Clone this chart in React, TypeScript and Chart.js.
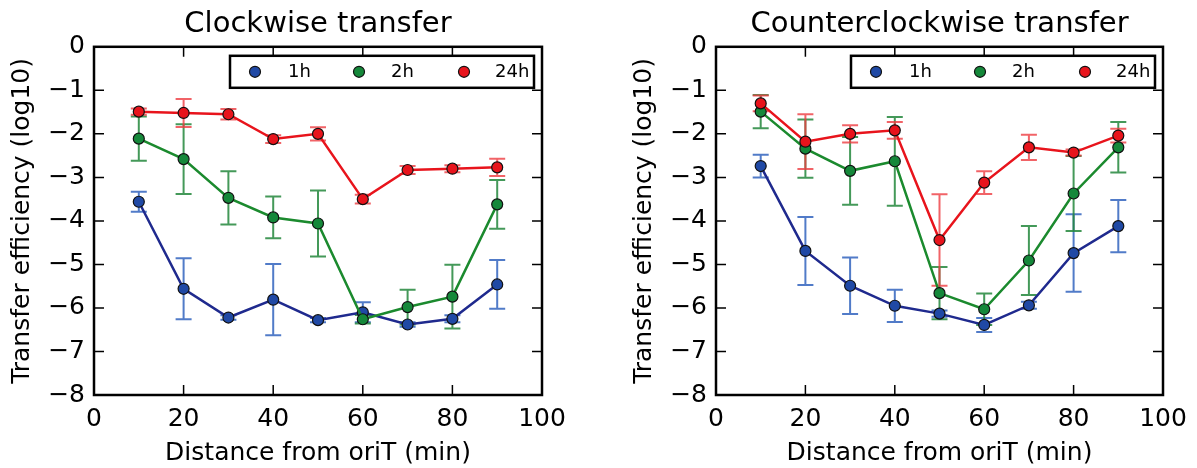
import React, { useEffect, useRef } from 'react';
import { Chart, registerables } from 'chart.js';

Chart.register(...registerables);

// Sampling positions along the chromosome (minutes from oriT)
const distances = [10, 20, 30, 40, 50, 60, 70, 80, 90];
const xTickValues = [0, 20, 40, 60, 80, 100];
const yTickValues = [0, -1, -2, -3, -4, -5, -6, -7, -8];
const seriesLabels = ['1h', '2h', '24h'];

// Clockwise transfer, log10 efficiency and error
const cw1h = [-3.56, -5.56, -6.22, -5.81, -6.28, -6.1, -6.38, -6.25, -5.46];
const cw1hErr = [0.23, 0.7, 0.05, 0.82, 0.05, 0.23, 0.05, 0.08, 0.56];
const cw2h = [-2.11, -2.58, -3.47, -3.92, -4.06, -6.26, -5.98, -5.74, -3.62];
const cw2hErr = [0.51, 0.8, 0.61, 0.48, 0.76, 0.1, 0.4, 0.73, 0.56];
const cw24h = [-1.49, -1.52, -1.55, -2.12, -2.0, -3.5, -2.83, -2.8, -2.77];
const cw24hErr = [0.07, 0.32, 0.12, 0.09, 0.15, 0.1, 0.09, 0.08, 0.2];

// Counterclockwise transfer, log10 efficiency and error
const ccw1h = [-2.74, -4.69, -5.49, -5.95, -6.13, -6.39, -5.94, -4.74, -4.12];
const ccw1hErr = [0.26, 0.78, 0.65, 0.37, 0.07, 0.16, 0.08, 0.89, 0.6];
const ccw2h = [-1.49, -2.34, -2.85, -2.63, -5.66, -6.03, -4.91, -3.37, -2.31];
const ccw2hErr = [0.38, 0.67, 0.78, 1.02, 0.6, 0.36, 0.79, 0.86, 0.58];
const ccw24h = [-1.3, -2.18, -2.0, -1.92, -4.44, -3.12, -2.31, -2.43, -2.04];
const ccw24hErr = [0.18, 0.63, 0.2, 0.19, 1.05, 0.26, 0.29, 0.07, 0.16];

const lineColors = ['#1f2a8e', '#1b8a2e', '#e8141c'];
const markerColors = ['#2049a5', '#15883a', '#e8141c'];
const errorColors = ['rgba(50,100,190,0.85)', 'rgba(35,135,60,0.85)', 'rgba(238,60,65,0.8)'];

const FONT = 'DejaVu Sans';
const H = 468;

const minus = (v: number) => (v < 0 ? '\u2212' + Math.abs(v) : String(v));

// Vertical error bars with caps, drawn underneath the lines
const errorBarPlugin = {
  id: 'errorBars',
  beforeDatasetsDraw(chart: any) {
    const { ctx, scales } = chart;
    const xs = scales.x;
    const ys = scales.y;
    ctx.save();
    ctx.lineWidth = 2;
    chart.data.datasets.forEach((ds: any) => {
      ctx.strokeStyle = ds.errorColor;
      ds.data.forEach((p: any, j: number) => {
        const e = ds.errors[j];
        const px = xs.getPixelForValue(p.x);
        const top = ys.getPixelForValue(p.y + e);
        const bot = ys.getPixelForValue(p.y - e);
        ctx.beginPath();
        ctx.moveTo(px, top);
        ctx.lineTo(px, bot);
        ctx.moveTo(px - 8, top);
        ctx.lineTo(px + 8, top);
        ctx.moveTo(px - 8, bot);
        ctx.lineTo(px + 8, bot);
        ctx.stroke();
      });
    });
    ctx.restore();
  },
};

// Axes frame with inward tick marks on all four sides
const framePlugin = {
  id: 'frame',
  afterDatasetsDraw(chart: any) {
    const { ctx, chartArea: a, scales } = chart;
    const len = 10;
    ctx.save();
    ctx.strokeStyle = '#000';
    ctx.lineWidth = 1.5;
    ctx.beginPath();
    scales.x.ticks.forEach((t: any) => {
      const px = scales.x.getPixelForValue(t.value);
      ctx.moveTo(px, a.bottom);
      ctx.lineTo(px, a.bottom - len);
      ctx.moveTo(px, a.top);
      ctx.lineTo(px, a.top + len);
    });
    scales.y.ticks.forEach((t: any) => {
      const py = scales.y.getPixelForValue(t.value);
      ctx.moveTo(a.left, py);
      ctx.lineTo(a.left + len, py);
      ctx.moveTo(a.right, py);
      ctx.lineTo(a.right - len, py);
    });
    ctx.stroke();
    ctx.lineWidth = 2.5;
    ctx.strokeRect(a.left, a.top, a.right - a.left, a.bottom - a.top);
    ctx.restore();
  },
};

// Boxed legend in the upper right corner of the plot area
const boxLegendPlugin = {
  id: 'boxLegend',
  afterDraw(chart: any) {
    const { ctx, chartArea: a } = chart;
    const w = 304;
    const h = 32;
    const left = a.right - 8 - w;
    const top = a.top + 9;
    ctx.save();
    ctx.fillStyle = '#fff';
    ctx.fillRect(left, top, w, h);
    ctx.strokeStyle = '#000';
    ctx.lineWidth = 2.5;
    ctx.strokeRect(left, top, w, h);
    const markerX = [25, 129, 234];
    const textX = [58, 161, 265];
    const cy = top + h / 2;
    ctx.font = `18px "${FONT}"`;
    ctx.textBaseline = 'middle';
    ctx.textAlign = 'left';
    chart.data.datasets.forEach((ds: any, i: number) => {
      ctx.beginPath();
      ctx.arc(left + markerX[i], cy, 5.5, 0, Math.PI * 2);
      ctx.fillStyle = ds.pointBackgroundColor;
      ctx.fill();
      ctx.lineWidth = 1.2;
      ctx.strokeStyle = '#111';
      ctx.stroke();
      ctx.fillStyle = '#000';
      ctx.fillText(ds.label, left + textX[i], cy + 1);
    });
    ctx.restore();
  },
};

type PanelProps = {
  title: string;
  values: number[][];
  errors: number[][];
  left: number;
  width: number;
  axisWidth: number;
  padRight: number;
  yTitlePad: number;
};

function Panel({ title, values, errors, left, width, axisWidth, padRight, yTitlePad }: PanelProps) {
  const ref = useRef<HTMLCanvasElement>(null);

  useEffect(() => {
    const datasets = values.map((vals, i) => ({
      label: seriesLabels[i],
      data: distances.map((d, j) => ({ x: d, y: vals[j] })),
      errors: errors[i],
      errorColor: errorColors[i],
      borderColor: lineColors[i],
      borderWidth: 2.5,
      pointBackgroundColor: markerColors[i],
      pointBorderColor: '#111',
      pointBorderWidth: 1.2,
      pointRadius: 5.5,
      order: 3 - i,
      tension: 0,
    }));

    const chart = new Chart(ref.current as HTMLCanvasElement, {
      type: 'line',
      data: { datasets } as any,
      options: {
        animation: false,
        responsive: false,
        devicePixelRatio: 1,
        layout: { padding: { left: 0, right: padRight, top: 0, bottom: 0 } },
        plugins: {
          legend: { display: false },
          tooltip: { enabled: false },
          title: {
            display: true,
            fullSize: false,
            text: title,
            color: '#000',
            font: { family: FONT, size: 29, weight: 'normal' },
            padding: { top: 7, bottom: 5 },
          },
        },
        scales: {
          x: {
            type: 'linear',
            min: 0,
            max: 100,
            afterBuildTicks: (s: any) => {
              s.ticks = xTickValues.map((v) => ({ value: v }));
            },
            afterFit: (s: any) => {
              s.height = H - 395;
            },
            grid: { display: false, drawTicks: false },
            border: { display: false },
            ticks: {
              color: '#000',
              padding: 9,
              maxRotation: 0,
              font: { family: FONT, size: 25 },
              callback: (v: any) => minus(Number(v)),
            },
            title: {
              display: true,
              text: 'Distance from oriT (min)',
              color: '#000',
              font: { family: FONT, size: 25 },
              padding: { top: 0, bottom: 0 },
            },
          },
          y: {
            type: 'linear',
            min: -8,
            max: 0,
            afterBuildTicks: (s: any) => {
              s.ticks = yTickValues.map((v) => ({ value: v }));
            },
            afterFit: (s: any) => {
              s.width = axisWidth;
            },
            grid: { display: false, drawTicks: false },
            border: { display: false },
            ticks: {
              color: '#000',
              padding: 9,
              font: { family: FONT, size: 25 },
              callback: (v: any) => minus(Number(v)),
            },
            title: {
              display: true,
              text: 'Transfer efficiency (log10)',
              color: '#000',
              font: { family: FONT, size: 25 },
              padding: { top: yTitlePad, bottom: 0 },
            },
          },
        },
      },
      plugins: [errorBarPlugin, framePlugin, boxLegendPlugin],
    });
    return () => chart.destroy();
  }, []);

  return (
    <canvas
      ref={ref}
      width={width}
      height={H}
      style={{ position: 'absolute', left, top: 0, width, height: H }}
    />
  );
}

export default function App() {
  return (
    <div style={{ position: 'absolute', left: 0, top: 0, width: 1197, height: H, background: '#fff' }}>
      <Panel
        title="Clockwise transfer"
        values={[cw1h, cw2h, cw24h]}
        errors={[cw1hErr, cw2hErr, cw24hErr]}
        left={0}
        width={598}
        axisWidth={94}
        padRight={56}
        yTitlePad={7}
      />
      <Panel
        title="Counterclockwise transfer"
        values={[ccw1h, ccw2h, ccw24h]}
        errors={[ccw1hErr, ccw2hErr, ccw24hErr]}
        left={598}
        width={599}
        axisWidth={118}
        padRight={34}
        yTitlePad={31}
      />
    </div>
  );
}
